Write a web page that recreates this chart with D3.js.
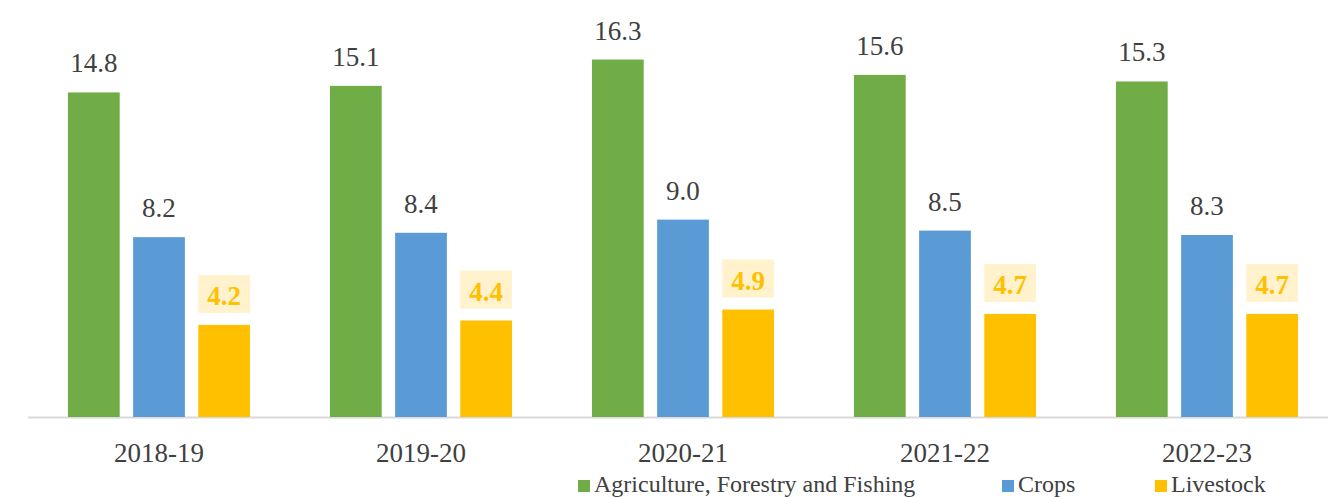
<!DOCTYPE html>
<html><head><meta charset="utf-8">
<script src="https://cdn.jsdelivr.net/npm/d3@7"></script>
<style>body{margin:0;background:#fff}svg{display:block}</style>
</head><body><svg id="c" width="1328" height="497"></svg>
<script>
const categories = ["2018-19","2019-20","2020-21","2021-22","2022-23"];
const seriesNames = ["Agriculture, Forestry and Fishing","Crops","Livestock"];
const agriculture = [14.8,15.1,16.3,15.6,15.3];
const crops = [8.2,8.4,9.0,8.5,8.3];
const livestock = [4.2,4.4,4.9,4.7,4.7];
const colors = ["#70AD47","#5B9BD5","#FFC000"];

const values = [agriculture, crops, livestock];
const svg = d3.select("#c");
const FAM = "'Liberation Serif', Tinos, serif";
const baseY = 417;
const y = d3.scaleLinear().domain([0, 18]).range([baseY, baseY - 18*21.93]);
const x0 = d3.scaleBand().domain(categories).range([28, 1338]).paddingInner(0.305).paddingOuter(0.1525);
const x1 = d3.scaleBand().domain(seriesNames).range([0, x0.bandwidth()]).paddingInner(0.206).paddingOuter(0);

svg.append("line").attr("x1", 28).attr("x2", 1328).attr("y1", baseY+0.5).attr("y2", baseY+0.5)
  .attr("stroke", "#D9D9D9").attr("stroke-width", 2);

const groups = svg.selectAll("g.grp").data(categories).join("g").attr("class","grp")
  .attr("transform", d => `translate(${x0(d)},0)`);

seriesNames.forEach((s, si) => {
  groups.append("rect")
    .attr("x", x1(s)).attr("width", x1.bandwidth())
    .attr("y", (d,i) => y(values[si][i]))
    .attr("height", (d,i) => baseY - y(values[si][i]))
    .attr("fill", colors[si]);
  if (si === 2) {
    groups.append("rect")
      .attr("x", x1(s)).attr("width", x1.bandwidth())
      .attr("y", (d,i) => y(values[si][i]) - 50).attr("height", 38)
      .attr("fill", "#FFF2CC");
  }
  groups.append("text")
    .attr("x", x1(s) + x1.bandwidth()/2)
    .attr("y", (d,i) => y(values[si][i]) - 20)
    .attr("text-anchor", "middle")
    .style("font-family", FAM, "important")
    .attr("font-size", 27)
    .attr("font-weight", si === 2 ? "bold" : "normal")
    .attr("fill", si === 2 ? "#FFC000" : "#404040")
    .text((d,i) => values[si][i].toFixed(1));
});

svg.selectAll("text.cat").data(categories).join("text").attr("class","cat")
  .attr("x", d => x0(d) + x0.bandwidth()/2).attr("y", 462)
  .attr("text-anchor","middle").style("font-family", FAM, "important").attr("font-size", 27)
  .attr("fill","#404040").text(d => d);

const legendX = [578, 1002, 1155];
const lg = svg.selectAll("g.lg").data(seriesNames).join("g").attr("class","lg")
  .attr("transform", (d,i) => `translate(${legendX[i]},0)`);
lg.append("rect").attr("x",0).attr("y",480).attr("width",12).attr("height",12)
  .attr("fill", (d,i) => colors[i]);
lg.append("text").attr("x", 16).attr("y", 492).style("font-family", FAM, "important").attr("font-size", 24)
  .attr("fill","#404040").text(d => d);
</script></body></html>
